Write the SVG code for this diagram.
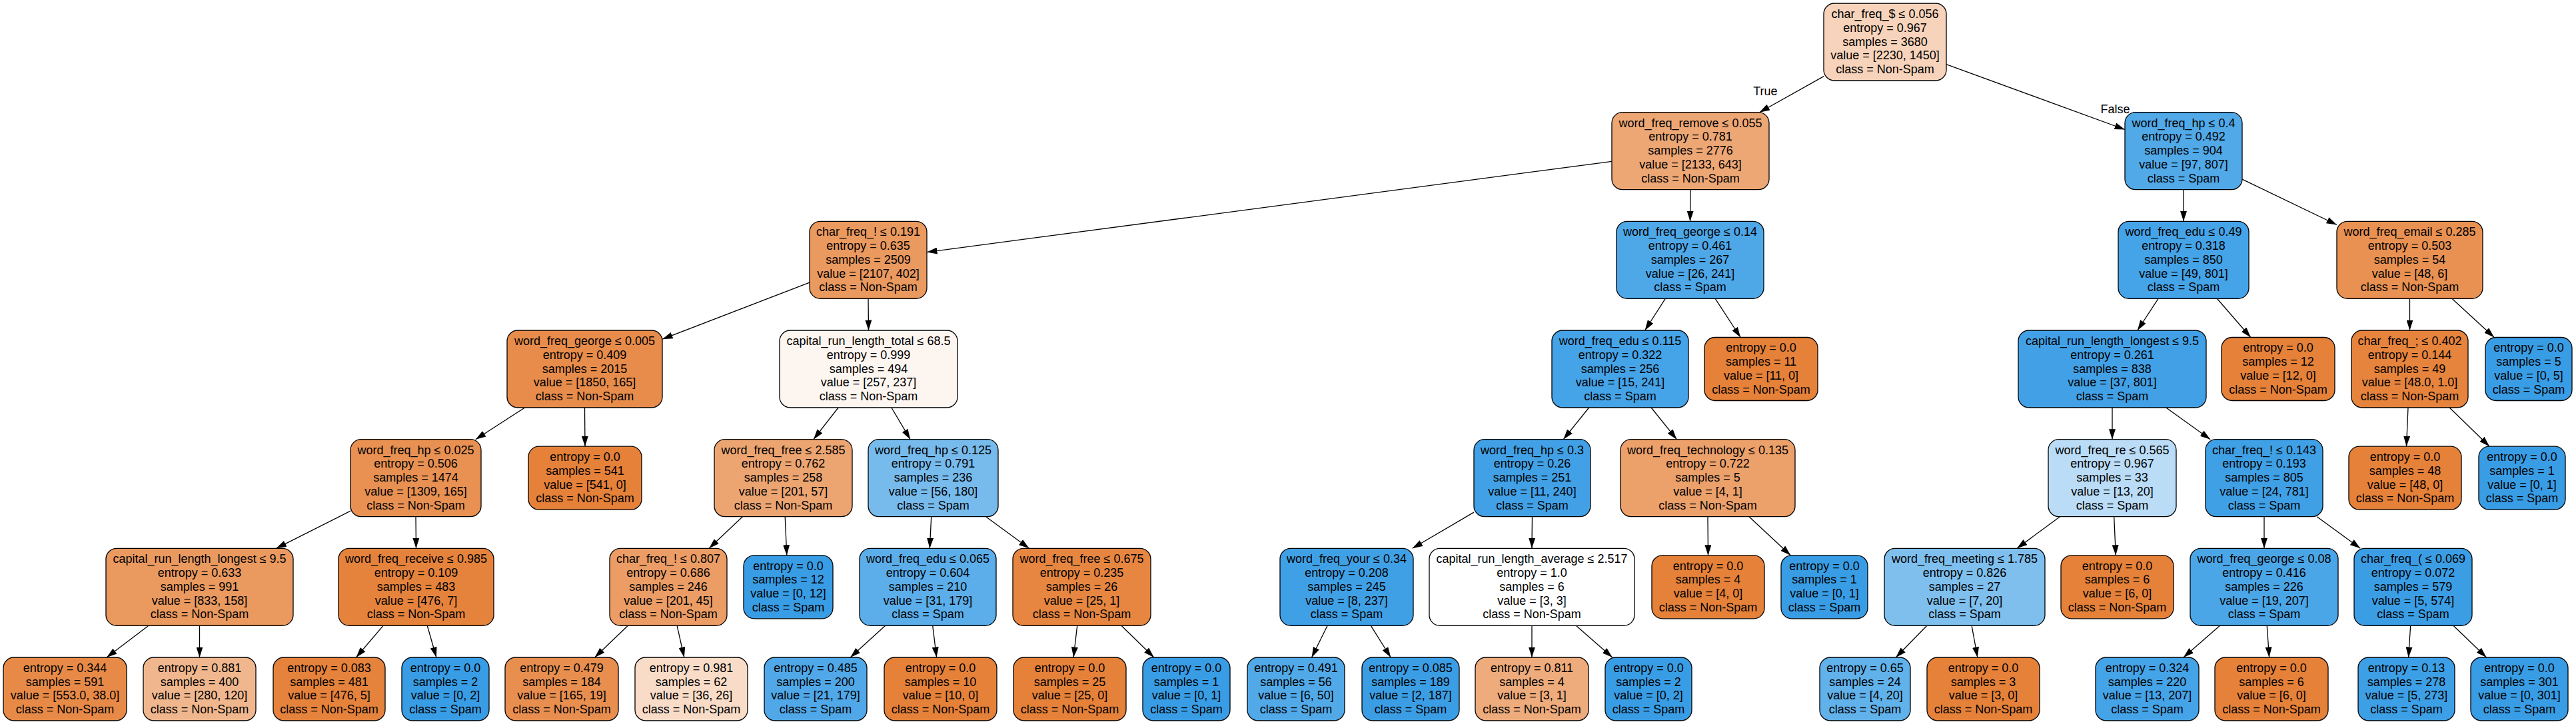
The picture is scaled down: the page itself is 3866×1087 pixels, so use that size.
<svg xmlns="http://www.w3.org/2000/svg" width="3866" height="1087" viewBox="0 0 3866 1087">
<style>
.n rect{stroke:#000;stroke-width:1.3}
text{font-family:"Liberation Sans",Arial,Helvetica,sans-serif;font-size:18px;text-anchor:middle;fill:#000}
#edges line{stroke:#000;stroke-width:1.3;marker-end:url(#ah)}
</style>
<defs>
<marker id="ah" markerUnits="userSpaceOnUse" markerWidth="16" markerHeight="10" refX="15.5" refY="5" orient="auto"><path d="M0,0 L15.5,5 L0,10 z" fill="#000"/></marker>
</defs>
<rect width="3866" height="1087" fill="#fff"/>
<g id="edges">
<line x1="2737" y1="114.6" x2="2640.5" y2="168.7"/>
<line x1="2921" y1="96.6" x2="3189" y2="194.5"/>
<line x1="2419" y1="242.3" x2="1391" y2="378.6"/>
<line x1="2537" y1="284.7" x2="2536.5" y2="332.3"/>
<line x1="1215" y1="424.2" x2="994" y2="509.2"/>
<line x1="1303" y1="448.3" x2="1303.5" y2="496"/>
<line x1="787.7" y1="612" x2="713.8" y2="659.7"/>
<line x1="877.5" y1="612" x2="878" y2="670.2"/>
<line x1="526" y1="767.1" x2="414.5" y2="823.3"/>
<line x1="624" y1="775.7" x2="624.5" y2="823.3"/>
<line x1="223" y1="939.3" x2="160.1" y2="987"/>
<line x1="299.5" y1="939.3" x2="299.5" y2="987"/>
<line x1="575.1" y1="939.3" x2="534.5" y2="987"/>
<line x1="641.2" y1="939.3" x2="654.9" y2="987"/>
<line x1="1258.1" y1="612" x2="1220.9" y2="659.7"/>
<line x1="1337.9" y1="612" x2="1366.1" y2="659.7"/>
<line x1="1114.4" y1="775.7" x2="1064.2" y2="823.3"/>
<line x1="1178.2" y1="775.7" x2="1180.8" y2="833.8"/>
<line x1="942.4" y1="939.3" x2="892.6" y2="987"/>
<line x1="1016.1" y1="939.3" x2="1026.8" y2="987"/>
<line x1="1397.7" y1="775.7" x2="1395.3" y2="823.3"/>
<line x1="1479.6" y1="775.7" x2="1544.5" y2="823.3"/>
<line x1="1328.7" y1="939.3" x2="1276.2" y2="987"/>
<line x1="1399.7" y1="939.3" x2="1405.6" y2="987"/>
<line x1="1616.7" y1="939.3" x2="1611.1" y2="987"/>
<line x1="1682.9" y1="939.3" x2="1731.8" y2="987"/>
<line x1="2499.3" y1="448.3" x2="2468.7" y2="496"/>
<line x1="2574.2" y1="448.3" x2="2612.1" y2="506.5"/>
<line x1="2384.7" y1="612" x2="2346.3" y2="659.7"/>
<line x1="2478.1" y1="612" x2="2516.4" y2="659.7"/>
<line x1="2212" y1="769.1" x2="2119.7" y2="823.3"/>
<line x1="2299.5" y1="775.7" x2="2299" y2="823.3"/>
<line x1="1992.2" y1="939.3" x2="1968.6" y2="987"/>
<line x1="2057.3" y1="939.3" x2="2087.2" y2="987"/>
<line x1="2299" y1="939.3" x2="2299" y2="987"/>
<line x1="2365.3" y1="939.3" x2="2419.8" y2="987"/>
<line x1="2563" y1="775.7" x2="2563.5" y2="833.8"/>
<line x1="2625" y1="775.7" x2="2687.2" y2="833.8"/>
<line x1="3277" y1="284.7" x2="3277" y2="332.3"/>
<line x1="3365" y1="269.1" x2="3507" y2="337.5"/>
<line x1="3239.1" y1="448.3" x2="3207.9" y2="496"/>
<line x1="3327.3" y1="448.3" x2="3377.8" y2="506.5"/>
<line x1="3170" y1="612" x2="3170" y2="659.7"/>
<line x1="3250.8" y1="612" x2="3317.2" y2="659.7"/>
<line x1="3091.5" y1="775.7" x2="3027" y2="823.3"/>
<line x1="3172.7" y1="775.7" x2="3175.3" y2="833.8"/>
<line x1="2891.9" y1="939.3" x2="2845.3" y2="987"/>
<line x1="2959.1" y1="939.3" x2="2967.8" y2="987"/>
<line x1="3398" y1="775.7" x2="3398" y2="823.3"/>
<line x1="3477.2" y1="775.7" x2="3542.3" y2="823.3"/>
<line x1="3331.6" y1="939.3" x2="3276.9" y2="987"/>
<line x1="3402.2" y1="939.3" x2="3405.6" y2="987"/>
<line x1="3617.7" y1="939.3" x2="3614.6" y2="987"/>
<line x1="3681.9" y1="939.3" x2="3731.6" y2="987"/>
<line x1="3616.5" y1="448.3" x2="3616.5" y2="496"/>
<line x1="3679.8" y1="448.3" x2="3743.2" y2="506.5"/>
<line x1="3614" y1="612" x2="3611.5" y2="670.2"/>
<line x1="3676.2" y1="612" x2="3736.1" y2="670.2"/>
<text x="2649.4" y="142.5">True</text>
<text x="3174.5" y="170.3">False</text>
</g>
<g id="n0" class="n" transform="translate(2829,63)"><rect x="-92" y="-58" width="184" height="116" rx="16" fill="#f6d3ba"/><text y="-36.2">char_freq_$ ≤ 0.056</text><text y="-15.4">entropy = 0.967</text><text y="5.5">samples = 3680</text><text y="26.4">value = [2230, 1450]</text><text y="47.2">class = Non-Spam</text></g>
<g id="n1" class="n" transform="translate(2537,226.7)"><rect x="-118" y="-58" width="236" height="116" rx="16" fill="#eda775"/><text y="-36.2">word_freq_remove ≤ 0.055</text><text y="-15.4">entropy = 0.781</text><text y="5.5">samples = 2776</text><text y="26.4">value = [2133, 643]</text><text y="47.2">class = Non-Spam</text></g>
<g id="n2" class="n" transform="translate(1303,390.3)"><rect x="-88" y="-58" width="176" height="116" rx="16" fill="#ea995f"/><text y="-36.2">char_freq_! ≤ 0.191</text><text y="-15.4">entropy = 0.635</text><text y="5.5">samples = 2509</text><text y="26.4">value = [2107, 402]</text><text y="47.2">class = Non-Spam</text></g>
<g id="n3" class="n" transform="translate(877.5,554)"><rect x="-116.5" y="-58" width="233" height="116" rx="16" fill="#e78c4b"/><text y="-36.2">word_freq_george ≤ 0.005</text><text y="-15.4">entropy = 0.409</text><text y="5.5">samples = 2015</text><text y="26.4">value = [1850, 165]</text><text y="47.2">class = Non-Spam</text></g>
<g id="n4" class="n" transform="translate(624,717.7)"><rect x="-98" y="-58" width="196" height="116" rx="16" fill="#e89152"/><text y="-36.2">word_freq_hp ≤ 0.025</text><text y="-15.4">entropy = 0.506</text><text y="5.5">samples = 1474</text><text y="26.4">value = [1309, 165]</text><text y="47.2">class = Non-Spam</text></g>
<g id="n5" class="n" transform="translate(299.5,881.3)"><rect x="-140.5" y="-58" width="281" height="116" rx="16" fill="#ea995f"/><text y="-36.2">capital_run_length_longest ≤ 9.5</text><text y="-15.4">entropy = 0.633</text><text y="5.5">samples = 991</text><text y="26.4">value = [833, 158]</text><text y="47.2">class = Non-Spam</text></g>
<g id="n6" class="n" transform="translate(97.5,1034.5)"><rect x="-92.5" y="-47.5" width="185" height="95" rx="16" fill="#e78a47"/><text y="-25.8">entropy = 0.344</text><text y="-4.9">samples = 591</text><text y="15.9">value = [553.0, 38.0]</text><text y="36.8">class = Non-Spam</text></g>
<g id="n7" class="n" transform="translate(299.5,1034.5)"><rect x="-84.5" y="-47.5" width="169" height="95" rx="16" fill="#f0b78e"/><text y="-25.8">entropy = 0.881</text><text y="-4.9">samples = 400</text><text y="15.9">value = [280, 120]</text><text y="36.8">class = Non-Spam</text></g>
<g id="n8" class="n" transform="translate(624.5,881.3)"><rect x="-116.5" y="-58" width="233" height="116" rx="16" fill="#e5833c"/><text y="-36.2">word_freq_receive ≤ 0.985</text><text y="-15.4">entropy = 0.109</text><text y="5.5">samples = 483</text><text y="26.4">value = [476, 7]</text><text y="47.2">class = Non-Spam</text></g>
<g id="n9" class="n" transform="translate(494,1034.5)"><rect x="-84" y="-47.5" width="168" height="95" rx="16" fill="#e5823b"/><text y="-25.8">entropy = 0.083</text><text y="-4.9">samples = 481</text><text y="15.9">value = [476, 5]</text><text y="36.8">class = Non-Spam</text></g>
<g id="n10" class="n" transform="translate(668.5,1034.5)"><rect x="-65.5" y="-47.5" width="131" height="95" rx="16" fill="#399de5"/><text y="-25.8">entropy = 0.0</text><text y="-4.9">samples = 2</text><text y="15.9">value = [0, 2]</text><text y="36.8">class = Spam</text></g>
<g id="n11" class="n" transform="translate(878,717.7)"><rect x="-85" y="-47.5" width="170" height="95" rx="16" fill="#e58139"/><text y="-25.8">entropy = 0.0</text><text y="-4.9">samples = 541</text><text y="15.9">value = [541, 0]</text><text y="36.8">class = Non-Spam</text></g>
<g id="n12" class="n" transform="translate(1303.5,554)"><rect x="-133.5" y="-58" width="267" height="116" rx="16" fill="#fdf5f0"/><text y="-36.2">capital_run_length_total ≤ 68.5</text><text y="-15.4">entropy = 0.999</text><text y="5.5">samples = 494</text><text y="26.4">value = [257, 237]</text><text y="47.2">class = Non-Spam</text></g>
<g id="n13" class="n" transform="translate(1175.5,717.7)"><rect x="-103.5" y="-58" width="207" height="116" rx="16" fill="#eca571"/><text y="-36.2">word_freq_free ≤ 2.585</text><text y="-15.4">entropy = 0.762</text><text y="5.5">samples = 258</text><text y="26.4">value = [201, 57]</text><text y="47.2">class = Non-Spam</text></g>
<g id="n14" class="n" transform="translate(1003,881.3)"><rect x="-88" y="-58" width="176" height="116" rx="16" fill="#eb9d65"/><text y="-36.2">char_freq_! ≤ 0.807</text><text y="-15.4">entropy = 0.686</text><text y="5.5">samples = 246</text><text y="26.4">value = [201, 45]</text><text y="47.2">class = Non-Spam</text></g>
<g id="n15" class="n" transform="translate(843,1034.5)"><rect x="-85" y="-47.5" width="170" height="95" rx="16" fill="#e88f50"/><text y="-25.8">entropy = 0.479</text><text y="-4.9">samples = 184</text><text y="15.9">value = [165, 19]</text><text y="36.8">class = Non-Spam</text></g>
<g id="n16" class="n" transform="translate(1037.5,1034.5)"><rect x="-84.5" y="-47.5" width="169" height="95" rx="16" fill="#f8dcc8"/><text y="-25.8">entropy = 0.981</text><text y="-4.9">samples = 62</text><text y="15.9">value = [36, 26]</text><text y="36.8">class = Non-Spam</text></g>
<g id="n17" class="n" transform="translate(1183,881.3)"><rect x="-67" y="-47.5" width="134" height="95" rx="16" fill="#399de5"/><text y="-25.8">entropy = 0.0</text><text y="-4.9">samples = 12</text><text y="15.9">value = [0, 12]</text><text y="36.8">class = Spam</text></g>
<g id="n18" class="n" transform="translate(1400.5,717.7)"><rect x="-97.5" y="-58" width="195" height="116" rx="16" fill="#77bbed"/><text y="-36.2">word_freq_hp ≤ 0.125</text><text y="-15.4">entropy = 0.791</text><text y="5.5">samples = 236</text><text y="26.4">value = [56, 180]</text><text y="47.2">class = Spam</text></g>
<g id="n19" class="n" transform="translate(1392.5,881.3)"><rect x="-102.5" y="-58" width="205" height="116" rx="16" fill="#5baeea"/><text y="-36.2">word_freq_edu ≤ 0.065</text><text y="-15.4">entropy = 0.604</text><text y="5.5">samples = 210</text><text y="26.4">value = [31, 179]</text><text y="47.2">class = Spam</text></g>
<g id="n20" class="n" transform="translate(1224,1034.5)"><rect x="-77" y="-47.5" width="154" height="95" rx="16" fill="#50a8e8"/><text y="-25.8">entropy = 0.485</text><text y="-4.9">samples = 200</text><text y="15.9">value = [21, 179]</text><text y="36.8">class = Spam</text></g>
<g id="n21" class="n" transform="translate(1411.5,1034.5)"><rect x="-84.5" y="-47.5" width="169" height="95" rx="16" fill="#e58139"/><text y="-25.8">entropy = 0.0</text><text y="-4.9">samples = 10</text><text y="15.9">value = [10, 0]</text><text y="36.8">class = Non-Spam</text></g>
<g id="n22" class="n" transform="translate(1623.5,881.3)"><rect x="-103.5" y="-58" width="207" height="116" rx="16" fill="#e68641"/><text y="-36.2">word_freq_free ≤ 0.675</text><text y="-15.4">entropy = 0.235</text><text y="5.5">samples = 26</text><text y="26.4">value = [25, 1]</text><text y="47.2">class = Non-Spam</text></g>
<g id="n23" class="n" transform="translate(1605.5,1034.5)"><rect x="-84.5" y="-47.5" width="169" height="95" rx="16" fill="#e58139"/><text y="-25.8">entropy = 0.0</text><text y="-4.9">samples = 25</text><text y="15.9">value = [25, 0]</text><text y="36.8">class = Non-Spam</text></g>
<g id="n24" class="n" transform="translate(1780.5,1034.5)"><rect x="-65.5" y="-47.5" width="131" height="95" rx="16" fill="#399de5"/><text y="-25.8">entropy = 0.0</text><text y="-4.9">samples = 1</text><text y="15.9">value = [0, 1]</text><text y="36.8">class = Spam</text></g>
<g id="n25" class="n" transform="translate(2536.5,390.3)"><rect x="-110.5" y="-58" width="221" height="116" rx="16" fill="#4ea8e8"/><text y="-36.2">word_freq_george ≤ 0.14</text><text y="-15.4">entropy = 0.461</text><text y="5.5">samples = 267</text><text y="26.4">value = [26, 241]</text><text y="47.2">class = Spam</text></g>
<g id="n26" class="n" transform="translate(2431.5,554)"><rect x="-102.5" y="-58" width="205" height="116" rx="16" fill="#45a3e7"/><text y="-36.2">word_freq_edu ≤ 0.115</text><text y="-15.4">entropy = 0.322</text><text y="5.5">samples = 256</text><text y="26.4">value = [15, 241]</text><text y="47.2">class = Spam</text></g>
<g id="n27" class="n" transform="translate(2299.5,717.7)"><rect x="-87.5" y="-58" width="175" height="116" rx="16" fill="#42a1e6"/><text y="-36.2">word_freq_hp ≤ 0.3</text><text y="-15.4">entropy = 0.26</text><text y="5.5">samples = 251</text><text y="26.4">value = [11, 240]</text><text y="47.2">class = Spam</text></g>
<g id="n28" class="n" transform="translate(2021,881.3)"><rect x="-100" y="-58" width="200" height="116" rx="16" fill="#40a0e6"/><text y="-36.2">word_freq_your ≤ 0.34</text><text y="-15.4">entropy = 0.208</text><text y="5.5">samples = 245</text><text y="26.4">value = [8, 237]</text><text y="47.2">class = Spam</text></g>
<g id="n29" class="n" transform="translate(1945,1034.5)"><rect x="-73" y="-47.5" width="146" height="95" rx="16" fill="#51a9e8"/><text y="-25.8">entropy = 0.491</text><text y="-4.9">samples = 56</text><text y="15.9">value = [6, 50]</text><text y="36.8">class = Spam</text></g>
<g id="n30" class="n" transform="translate(2117,1034.5)"><rect x="-73" y="-47.5" width="146" height="95" rx="16" fill="#3b9ee5"/><text y="-25.8">entropy = 0.085</text><text y="-4.9">samples = 189</text><text y="15.9">value = [2, 187]</text><text y="36.8">class = Spam</text></g>
<g id="n31" class="n" transform="translate(2299,881.3)"><rect x="-154" y="-58" width="308" height="116" rx="16" fill="#ffffff"/><text y="-36.2">capital_run_length_average ≤ 2.517</text><text y="-15.4">entropy = 1.0</text><text y="5.5">samples = 6</text><text y="26.4">value = [3, 3]</text><text y="47.2">class = Non-Spam</text></g>
<g id="n32" class="n" transform="translate(2299,1034.5)"><rect x="-85" y="-47.5" width="170" height="95" rx="16" fill="#eeab7b"/><text y="-25.8">entropy = 0.811</text><text y="-4.9">samples = 4</text><text y="15.9">value = [3, 1]</text><text y="36.8">class = Non-Spam</text></g>
<g id="n33" class="n" transform="translate(2474,1034.5)"><rect x="-65" y="-47.5" width="130" height="95" rx="16" fill="#399de5"/><text y="-25.8">entropy = 0.0</text><text y="-4.9">samples = 2</text><text y="15.9">value = [0, 2]</text><text y="36.8">class = Spam</text></g>
<g id="n34" class="n" transform="translate(2563,717.7)"><rect x="-131" y="-58" width="262" height="116" rx="16" fill="#eca06a"/><text y="-36.2">word_freq_technology ≤ 0.135</text><text y="-15.4">entropy = 0.722</text><text y="5.5">samples = 5</text><text y="26.4">value = [4, 1]</text><text y="47.2">class = Non-Spam</text></g>
<g id="n35" class="n" transform="translate(2563.5,881.3)"><rect x="-84.5" y="-47.5" width="169" height="95" rx="16" fill="#e58139"/><text y="-25.8">entropy = 0.0</text><text y="-4.9">samples = 4</text><text y="15.9">value = [4, 0]</text><text y="36.8">class = Non-Spam</text></g>
<g id="n36" class="n" transform="translate(2738,881.3)"><rect x="-65" y="-47.5" width="130" height="95" rx="16" fill="#399de5"/><text y="-25.8">entropy = 0.0</text><text y="-4.9">samples = 1</text><text y="15.9">value = [0, 1]</text><text y="36.8">class = Spam</text></g>
<g id="n37" class="n" transform="translate(2643,554)"><rect x="-85" y="-47.5" width="170" height="95" rx="16" fill="#e58139"/><text y="-25.8">entropy = 0.0</text><text y="-4.9">samples = 11</text><text y="15.9">value = [11, 0]</text><text y="36.8">class = Non-Spam</text></g>
<g id="n38" class="n" transform="translate(3277,226.7)"><rect x="-88" y="-58" width="176" height="116" rx="16" fill="#51a9e8"/><text y="-36.2">word_freq_hp ≤ 0.4</text><text y="-15.4">entropy = 0.492</text><text y="5.5">samples = 904</text><text y="26.4">value = [97, 807]</text><text y="47.2">class = Spam</text></g>
<g id="n39" class="n" transform="translate(3277,390.3)"><rect x="-98" y="-58" width="196" height="116" rx="16" fill="#45a3e7"/><text y="-36.2">word_freq_edu ≤ 0.49</text><text y="-15.4">entropy = 0.318</text><text y="5.5">samples = 850</text><text y="26.4">value = [49, 801]</text><text y="47.2">class = Spam</text></g>
<g id="n40" class="n" transform="translate(3170,554)"><rect x="-141" y="-58" width="282" height="116" rx="16" fill="#42a1e6"/><text y="-36.2">capital_run_length_longest ≤ 9.5</text><text y="-15.4">entropy = 0.261</text><text y="5.5">samples = 838</text><text y="26.4">value = [37, 801]</text><text y="47.2">class = Spam</text></g>
<g id="n41" class="n" transform="translate(3170,717.7)"><rect x="-96" y="-58" width="192" height="116" rx="16" fill="#badcf6"/><text y="-36.2">word_freq_re ≤ 0.565</text><text y="-15.4">entropy = 0.967</text><text y="5.5">samples = 33</text><text y="26.4">value = [13, 20]</text><text y="47.2">class = Spam</text></g>
<g id="n42" class="n" transform="translate(2948.5,881.3)"><rect x="-120.5" y="-58" width="241" height="116" rx="16" fill="#7ebfee"/><text y="-36.2">word_freq_meeting ≤ 1.785</text><text y="-15.4">entropy = 0.826</text><text y="5.5">samples = 27</text><text y="26.4">value = [7, 20]</text><text y="47.2">class = Spam</text></g>
<g id="n43" class="n" transform="translate(2799,1034.5)"><rect x="-68" y="-47.5" width="136" height="95" rx="16" fill="#61b1ea"/><text y="-25.8">entropy = 0.65</text><text y="-4.9">samples = 24</text><text y="15.9">value = [4, 20]</text><text y="36.8">class = Spam</text></g>
<g id="n44" class="n" transform="translate(2976.5,1034.5)"><rect x="-84.5" y="-47.5" width="169" height="95" rx="16" fill="#e58139"/><text y="-25.8">entropy = 0.0</text><text y="-4.9">samples = 3</text><text y="15.9">value = [3, 0]</text><text y="36.8">class = Non-Spam</text></g>
<g id="n45" class="n" transform="translate(3177.5,881.3)"><rect x="-84.5" y="-47.5" width="169" height="95" rx="16" fill="#e58139"/><text y="-25.8">entropy = 0.0</text><text y="-4.9">samples = 6</text><text y="15.9">value = [6, 0]</text><text y="36.8">class = Non-Spam</text></g>
<g id="n46" class="n" transform="translate(3398,717.7)"><rect x="-88" y="-58" width="176" height="116" rx="16" fill="#3fa0e6"/><text y="-36.2">char_freq_! ≤ 0.143</text><text y="-15.4">entropy = 0.193</text><text y="5.5">samples = 805</text><text y="26.4">value = [24, 781]</text><text y="47.2">class = Spam</text></g>
<g id="n47" class="n" transform="translate(3398,881.3)"><rect x="-111" y="-58" width="222" height="116" rx="16" fill="#4ba6e7"/><text y="-36.2">word_freq_george ≤ 0.08</text><text y="-15.4">entropy = 0.416</text><text y="5.5">samples = 226</text><text y="26.4">value = [19, 207]</text><text y="47.2">class = Spam</text></g>
<g id="n48" class="n" transform="translate(3222.5,1034.5)"><rect x="-77.5" y="-47.5" width="155" height="95" rx="16" fill="#45a3e7"/><text y="-25.8">entropy = 0.324</text><text y="-4.9">samples = 220</text><text y="15.9">value = [13, 207]</text><text y="36.8">class = Spam</text></g>
<g id="n49" class="n" transform="translate(3409,1034.5)"><rect x="-85" y="-47.5" width="170" height="95" rx="16" fill="#e58139"/><text y="-25.8">entropy = 0.0</text><text y="-4.9">samples = 6</text><text y="15.9">value = [6, 0]</text><text y="36.8">class = Non-Spam</text></g>
<g id="n50" class="n" transform="translate(3621.5,881.3)"><rect x="-88.5" y="-58" width="177" height="116" rx="16" fill="#3b9ee5"/><text y="-36.2">char_freq_( ≤ 0.069</text><text y="-15.4">entropy = 0.072</text><text y="5.5">samples = 579</text><text y="26.4">value = [5, 574]</text><text y="47.2">class = Spam</text></g>
<g id="n51" class="n" transform="translate(3611.5,1034.5)"><rect x="-72.5" y="-47.5" width="145" height="95" rx="16" fill="#3d9fe5"/><text y="-25.8">entropy = 0.13</text><text y="-4.9">samples = 278</text><text y="15.9">value = [5, 273]</text><text y="36.8">class = Spam</text></g>
<g id="n52" class="n" transform="translate(3781,1034.5)"><rect x="-73" y="-47.5" width="146" height="95" rx="16" fill="#399de5"/><text y="-25.8">entropy = 0.0</text><text y="-4.9">samples = 301</text><text y="15.9">value = [0, 301]</text><text y="36.8">class = Spam</text></g>
<g id="n53" class="n" transform="translate(3419,554)"><rect x="-85" y="-47.5" width="170" height="95" rx="16" fill="#e58139"/><text y="-25.8">entropy = 0.0</text><text y="-4.9">samples = 12</text><text y="15.9">value = [12, 0]</text><text y="36.8">class = Non-Spam</text></g>
<g id="n54" class="n" transform="translate(3616.5,390.3)"><rect x="-109.5" y="-58" width="219" height="116" rx="16" fill="#e89152"/><text y="-36.2">word_freq_email ≤ 0.285</text><text y="-15.4">entropy = 0.503</text><text y="5.5">samples = 54</text><text y="26.4">value = [48, 6]</text><text y="47.2">class = Non-Spam</text></g>
<g id="n55" class="n" transform="translate(3616.5,554)"><rect x="-87.5" y="-58" width="175" height="116" rx="16" fill="#e6843d"/><text y="-36.2">char_freq_; ≤ 0.402</text><text y="-15.4">entropy = 0.144</text><text y="5.5">samples = 49</text><text y="26.4">value = [48.0, 1.0]</text><text y="47.2">class = Non-Spam</text></g>
<g id="n56" class="n" transform="translate(3609.5,717.7)"><rect x="-84.5" y="-47.5" width="169" height="95" rx="16" fill="#e58139"/><text y="-25.8">entropy = 0.0</text><text y="-4.9">samples = 48</text><text y="15.9">value = [48, 0]</text><text y="36.8">class = Non-Spam</text></g>
<g id="n57" class="n" transform="translate(3785,717.7)"><rect x="-65" y="-47.5" width="130" height="95" rx="16" fill="#399de5"/><text y="-25.8">entropy = 0.0</text><text y="-4.9">samples = 1</text><text y="15.9">value = [0, 1]</text><text y="36.8">class = Spam</text></g>
<g id="n58" class="n" transform="translate(3795,554)"><rect x="-65" y="-47.5" width="130" height="95" rx="16" fill="#399de5"/><text y="-25.8">entropy = 0.0</text><text y="-4.9">samples = 5</text><text y="15.9">value = [0, 5]</text><text y="36.8">class = Spam</text></g>
</svg>
